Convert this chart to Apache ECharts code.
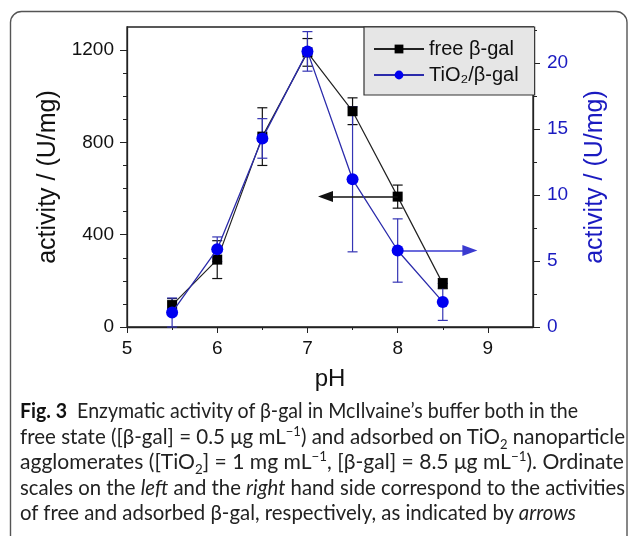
<!DOCTYPE html>
<html>
<head>
<meta charset="utf-8">
<script src="https://cdn.jsdelivr.net/npm/echarts@6/dist/echarts.min.js"></script>
<style>
  html, body { margin: 0; padding: 0; background: #fff; }
  #wrap { position: relative; width: 629px; height: 536px; overflow: hidden; }
  #chart { position: absolute; left: 0; top: 0; width: 629px; height: 536px; }
  #caption { position: absolute; left: 20px; top: 398px; font-family: Lato, "Noto Sans", sans-serif;
             font-size: 20.5px; line-height: 25.5px; color: #222; white-space: nowrap; }
  #caption div { display: block; width: max-content; transform-origin: 0 50%; }
  #caption b { color: #111; }
  #caption sup, #caption sub { font-size: 13px; line-height: 0; }
</style>
</head>
<body>
<div id="wrap">
  <div id="chart"></div>
  <div id="caption">
    <div data-w="558"><b>Fig. 3</b>&nbsp; Enzymatic activity of β-gal in McIlvaine’s buffer both in the</div>
    <div data-w="605">free state ([β-gal] = 0.5 μg mL<sup>−1</sup>) and adsorbed on TiO<sub>2</sub> nanoparticle</div>
    <div data-w="604">agglomerates ([TiO<sub>2</sub>] = 1 mg mL<sup>−1</sup>, [β-gal] = 8.5 μg mL<sup>−1</sup>). Ordinate</div>
    <div data-w="605">scales on the <i>left</i> and the <i>right</i> hand side correspond to the activities</div>
    <div data-w="556">of free and adsorbed β-gal, respectively, as indicated by <i>arrows</i></div>
  </div>
</div>
<script>
// pH values
var ph = [5.5, 6.0, 6.5, 7.0, 7.5, 8.0, 8.5];
// free beta-gal, left axis (U/mg)
var freeVal = [95, 292, 825, 1190, 935, 565, 188];
var freeErr = [28, 82, 125, 60, 58, 50, 22];
// TiO2 adsorbed beta-gal, right axis (U/mg)
var tioVal = [1.1, 5.9, 14.3, 20.9, 11.2, 5.8, 1.9];
var tioErr = [1.1, 0.93, 1.5, 1.5, 5.5, 2.4, 1.4];
// arrows: [from pH, to pH, level]
var freeArrow = [8.0, 7.2, 565];
var tioArrow = [8.0, 8.8, 5.8];
// ticks
var xMajor = [5, 6, 7, 8, 9];
var xMinor = [5.5, 6.5, 7.5, 8.5];
var leftMajor = [0, 400, 800, 1200];
var leftMinor = [100, 200, 300, 500, 600, 700, 900, 1000, 1100];
var rightMajor = [0, 5, 10, 15, 20];
var rightMinor = [2.5, 7.5, 12.5, 17.5, 22.5];

var FONT = '"Liberation Sans", Arial, sans-serif';
var BLUE = '#0000f0';
var BLUE_LINE = '#2b2bab';
var BLUE_TEXT = '#1a1ac0';

// fit caption lines to the widths of the printed figure
var lines = document.querySelectorAll('#caption div');
for (var k = 0; k < lines.length; k++) {
  var w = lines[k].getBoundingClientRect().width;
  var target = +lines[k].getAttribute('data-w');
  lines[k].style.transform = 'scaleX(' + (target / w) + ')';
}

function pairs(xs, ys) {
  var out = [];
  for (var i = 0; i < xs.length; i++) out.push([xs[i], ys[i]]);
  return out;
}
function errData(xs, ys, es) {
  var out = [];
  for (var i = 0; i < xs.length; i++) out.push([xs[i], ys[i] - es[i], ys[i] + es[i]]);
  return out;
}
function errRender(color) {
  return function (params, api) {
    var lo = api.coord([api.value(0), api.value(1)]);
    var hi = api.coord([api.value(0), api.value(2)]);
    var w = 5;
    var st = { stroke: color, lineWidth: 1.2 };
    return {
      type: 'group',
      children: [
        { type: 'line', shape: { x1: lo[0], y1: lo[1], x2: hi[0], y2: hi[1] }, style: st },
        { type: 'line', shape: { x1: lo[0] - w, y1: lo[1], x2: lo[0] + w, y2: lo[1] }, style: st },
        { type: 'line', shape: { x1: hi[0] - w, y1: hi[1], x2: hi[0] + w, y2: hi[1] }, style: st }
      ]
    };
  };
}
function plain(v) { return String(v); }

var chart = echarts.init(document.getElementById('chart'));

var axisLine = { show: true, lineStyle: { color: '#222', width: 1.3 } };

var option = {
  animation: false,
  textStyle: { fontFamily: FONT },
  grid: { left: 127, right: 96, top: 27, bottom: 209, show: true, borderColor: '#222', borderWidth: 1.3 },
  legend: {
    left: 364, top: 27, orient: 'vertical',
    backgroundColor: '#e6e6e6', borderColor: '#333', borderWidth: 1.2, borderRadius: 0,
    padding: [12, 16, 10, 9], itemGap: 6, itemWidth: 50, itemHeight: 11,
    textStyle: { fontSize: 20, color: '#111', fontFamily: FONT },
    data: ['free β-gal', 'TiO₂/β-gal']
  },
  xAxis: [
    {
      type: 'value', min: 5, max: 9.5, interval: 1,
      axisLine: axisLine, splitLine: { show: false },
      axisTick: { length: 6, customValues: xMajor, lineStyle: { color: '#222' } },
      axisLabel: { customValues: xMajor, formatter: plain, fontSize: 19, color: '#111', margin: 12 },
      name: 'pH', nameLocation: 'middle', nameGap: 40,
      nameTextStyle: { fontSize: 24, color: '#111' }
    },
    {
      type: 'value', min: 5, max: 9.5, position: 'bottom',
      axisLine: { show: false }, splitLine: { show: false }, axisLabel: { show: false },
      axisTick: { length: 3, customValues: xMinor, lineStyle: { color: '#222' } }
    }
  ],
  yAxis: [
    {
      type: 'value', min: 0, max: 1300, interval: 400, position: 'left',
      axisLine: axisLine, splitLine: { show: false },
      axisTick: { length: 7, customValues: leftMajor, lineStyle: { color: '#222' } },
      axisLabel: { customValues: leftMajor, formatter: plain, fontSize: 19, color: '#111', margin: 13 },
      name: 'activity / (U/mg)', nameLocation: 'middle', nameGap: 66,
      nameTextStyle: { fontSize: 25, color: '#111' }
    },
    {
      type: 'value', min: 0, max: 1300, position: 'left',
      axisLine: { show: false }, splitLine: { show: false }, axisLabel: { show: false },
      axisTick: { length: 4, customValues: leftMinor, lineStyle: { color: '#222' } }
    },
    {
      type: 'value', min: 0, max: 22.75, interval: 5, position: 'right',
      axisLine: axisLine, splitLine: { show: false },
      axisTick: { length: 7, customValues: rightMajor, lineStyle: { color: '#222' } },
      axisLabel: { customValues: rightMajor, formatter: plain, fontSize: 19, color: BLUE_TEXT, margin: 14 },
      name: 'activity / (U/mg)', nameLocation: 'middle', nameGap: 50,
      nameTextStyle: { fontSize: 25, color: BLUE_TEXT }
    },
    {
      type: 'value', min: 0, max: 22.75, position: 'right',
      axisLine: { show: false }, splitLine: { show: false }, axisLabel: { show: false },
      axisTick: { length: 4, customValues: rightMinor, lineStyle: { color: '#222' } }
    }
  ],
  graphic: [
    {
      type: 'rect', silent: true, z: -1,
      shape: { x: 10.5, y: 11.5, width: 616.5, height: 600, r: 11 },
      style: { fill: 'none', stroke: '#555', lineWidth: 1.4 }
    }
  ],
  series: [
    {
      type: 'custom', name: 'freeErr', xAxisIndex: 0, yAxisIndex: 0,
      data: errData(ph, freeVal, freeErr), renderItem: errRender('#111'), z: 3,
      encode: { x: 0, y: [1, 2] }
    },
    {
      type: 'custom', name: 'tioErr', xAxisIndex: 0, yAxisIndex: 2,
      data: errData(ph, tioVal, tioErr), renderItem: errRender('#3535b5'), z: 3,
      encode: { x: 0, y: [1, 2] }
    },
    {
      type: 'line', name: 'free β-gal', xAxisIndex: 0, yAxisIndex: 0,
      data: pairs(ph, freeVal), symbol: 'rect', symbolSize: 10, z: 4,
      itemStyle: { color: '#000' }, lineStyle: { color: '#222', width: 1.2 },
      markLine: {
        silent: true, symbol: ['none', 'triangle'], symbolSize: [11, 15],
        label: { show: false }, lineStyle: { color: '#111', width: 1.6, type: 'solid' },
        data: [[{ coord: [freeArrow[0], freeArrow[2]] }, { coord: [freeArrow[1], freeArrow[2]] }]]
      }
    },
    {
      type: 'line', name: 'TiO₂/β-gal', xAxisIndex: 0, yAxisIndex: 2,
      data: pairs(ph, tioVal), symbol: 'circle', symbolSize: 12, z: 5,
      itemStyle: { color: BLUE }, lineStyle: { color: BLUE_LINE, width: 1.3 },
      markLine: {
        silent: true, symbol: ['none', 'triangle'], symbolSize: [11, 15],
        label: { show: false }, lineStyle: { color: '#3a3ad0', width: 1.6, type: 'solid' },
        itemStyle: { color: BLUE },
        data: [[{ coord: [tioArrow[0], tioArrow[2]] }, { coord: [tioArrow[1], tioArrow[2]] }]]
      }
    }
  ]
};
chart.setOption(option);
</script>
</body>
</html>
